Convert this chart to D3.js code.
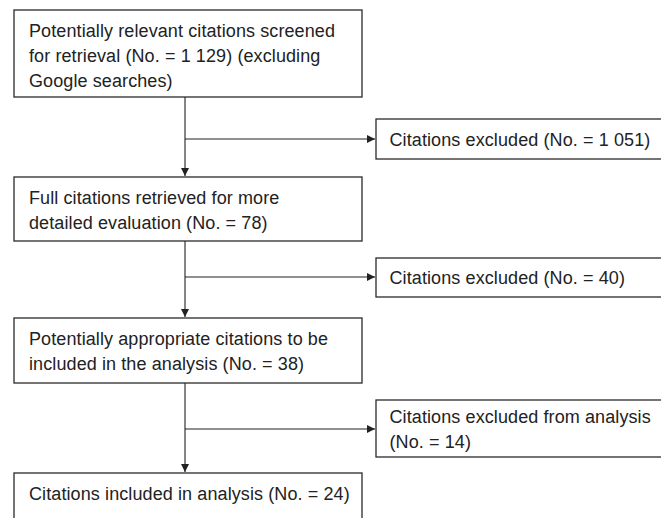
<!DOCTYPE html>
<html lang="en">
  <head>
    <meta charset="UTF-8" />
    <title>Citation screening flow</title>
    <style type="text/css">
      body {
        margin: 0;
        background: #ffffff;
        font-family: "Liberation Sans", Arial, Helvetica, sans-serif;
      }
      svg {
        display: block;
      }
      .box rect {
        fill: #ffffff;
        stroke: #2a2a2a;
        stroke-width: 1.3px;
      }
      .box text {
        fill: #222222;
        font-size: 18px;
        letter-spacing: 0.1px;
      }
      .flow line {
        stroke: #222222;
        stroke-width: 1.1px;
      }
    </style>
  </head>
  <body>
    <script src="https://d3js.org/d3.v7.min.js"></script>
    <script>
      // main column steps (top to bottom)
      var mainSteps = [
        ["Potentially relevant citations screened", "for retrieval (No. = 1 129) (excluding", "Google searches)"],
        ["Full citations retrieved for more", "detailed evaluation (No. = 78)"],
        ["Potentially appropriate citations to be", "included in the analysis (No. = 38)"],
        ["Citations included in analysis (No. = 24)"],
      ];
      // excluded branches
      var exclusions = [
        ["Citations excluded (No. = 1 051)"],
        ["Citations excluded (No. = 40)"],
        ["Citations excluded from analysis", "(No. = 14)"],
      ];
      var counts = [1129, 78, 38, 24];
      var excludedCounts = [1051, 40, 14];

      var width = 661;
      var height = 518;
      var lineHeight = 25;

      // layout (pixel geometry of the diagram)
      var mainBoxes = [
        { top: 10, bottom: 97 },
        { top: 177, bottom: 241 },
        { top: 318, bottom: 383 },
        { top: 473, bottom: 540 },
      ];
      var sideBoxes = [
        { top: 119, bottom: 159, branch: 139 },
        { top: 258, bottom: 297, branch: 277 },
        { top: 400, bottom: 457, branch: 429 },
      ];

      var x = d3.scaleLinear().domain([0, 1]).range([14, 362]);
      var xSide = d3.scaleLinear().domain([0, 1]).range([376, 672]);
      var spineX = 185;

      var svg = d3
        .select("body")
        .append("svg")
        .attr("width", width)
        .attr("height", height)
        .attr("viewBox", [0, 0, width, height]);

      svg
        .append("defs")
        .append("marker")
        .attr("id", "arrow")
        .attr("viewBox", "0 0 10 10")
        .attr("refX", 10)
        .attr("refY", 5)
        .attr("markerUnits", "userSpaceOnUse")
        .attr("markerWidth", 9)
        .attr("markerHeight", 8)
        .attr("orient", "auto")
        .append("path")
        .attr("d", "M0,0L10,5L0,10Z")
        .attr("fill", "#222222");

      var flow = svg.append("g").attr("class", "flow");

      // spine segments between main boxes
      flow
        .selectAll(".spine")
        .data(d3.pairs(mainBoxes))
        .join("line")
        .attr("class", "spine")
        .attr("x1", spineX)
        .attr("x2", spineX)
        .attr("y1", (d) => d[0].bottom)
        .attr("y2", (d) => d[1].top - 1)
        .attr("marker-end", "url(#arrow)");

      // branches to exclusion boxes
      flow
        .selectAll(".branch")
        .data(sideBoxes)
        .join("line")
        .attr("class", "branch")
        .attr("x1", spineX)
        .attr("x2", xSide(0) - 1)
        .attr("y1", (d) => d.branch)
        .attr("y2", (d) => d.branch)
        .attr("marker-end", "url(#arrow)");

      function drawBoxes(cls, layout, texts, xs, pad, firstBase) {
        var box = svg
          .selectAll("." + cls)
          .data(layout.map((d, i) => Object.assign({ lines: texts[i] }, d)))
          .join("g")
          .attr("class", "box " + cls);

        box
          .append("rect")
          .attr("x", xs(0))
          .attr("y", (d) => d.top)
          .attr("width", xs(1) - xs(0))
          .attr("height", (d) => d.bottom - d.top);

        box
          .append("text")
          .selectAll("tspan")
          .data((d) => d.lines.map((t, i) => ({ t: t, y: firstBase(d) + i * lineHeight })))
          .join("tspan")
          .attr("x", xs(0) + pad)
          .attr("y", (d) => d.y)
          .text((d) => d.t);
      }

      drawBoxes("main-box", mainBoxes, mainSteps, x, 15, (d) => d.top + 27);
      drawBoxes("side-box", sideBoxes, exclusions, xSide, 13.5, (d) => {
        var n = (d.bottom - d.top) > 45 ? 2 : 1;
        return (d.top + d.bottom) / 2 + 6.5 - ((n - 1) * lineHeight) / 2;
      });
    </script>
  </body>
</html>
